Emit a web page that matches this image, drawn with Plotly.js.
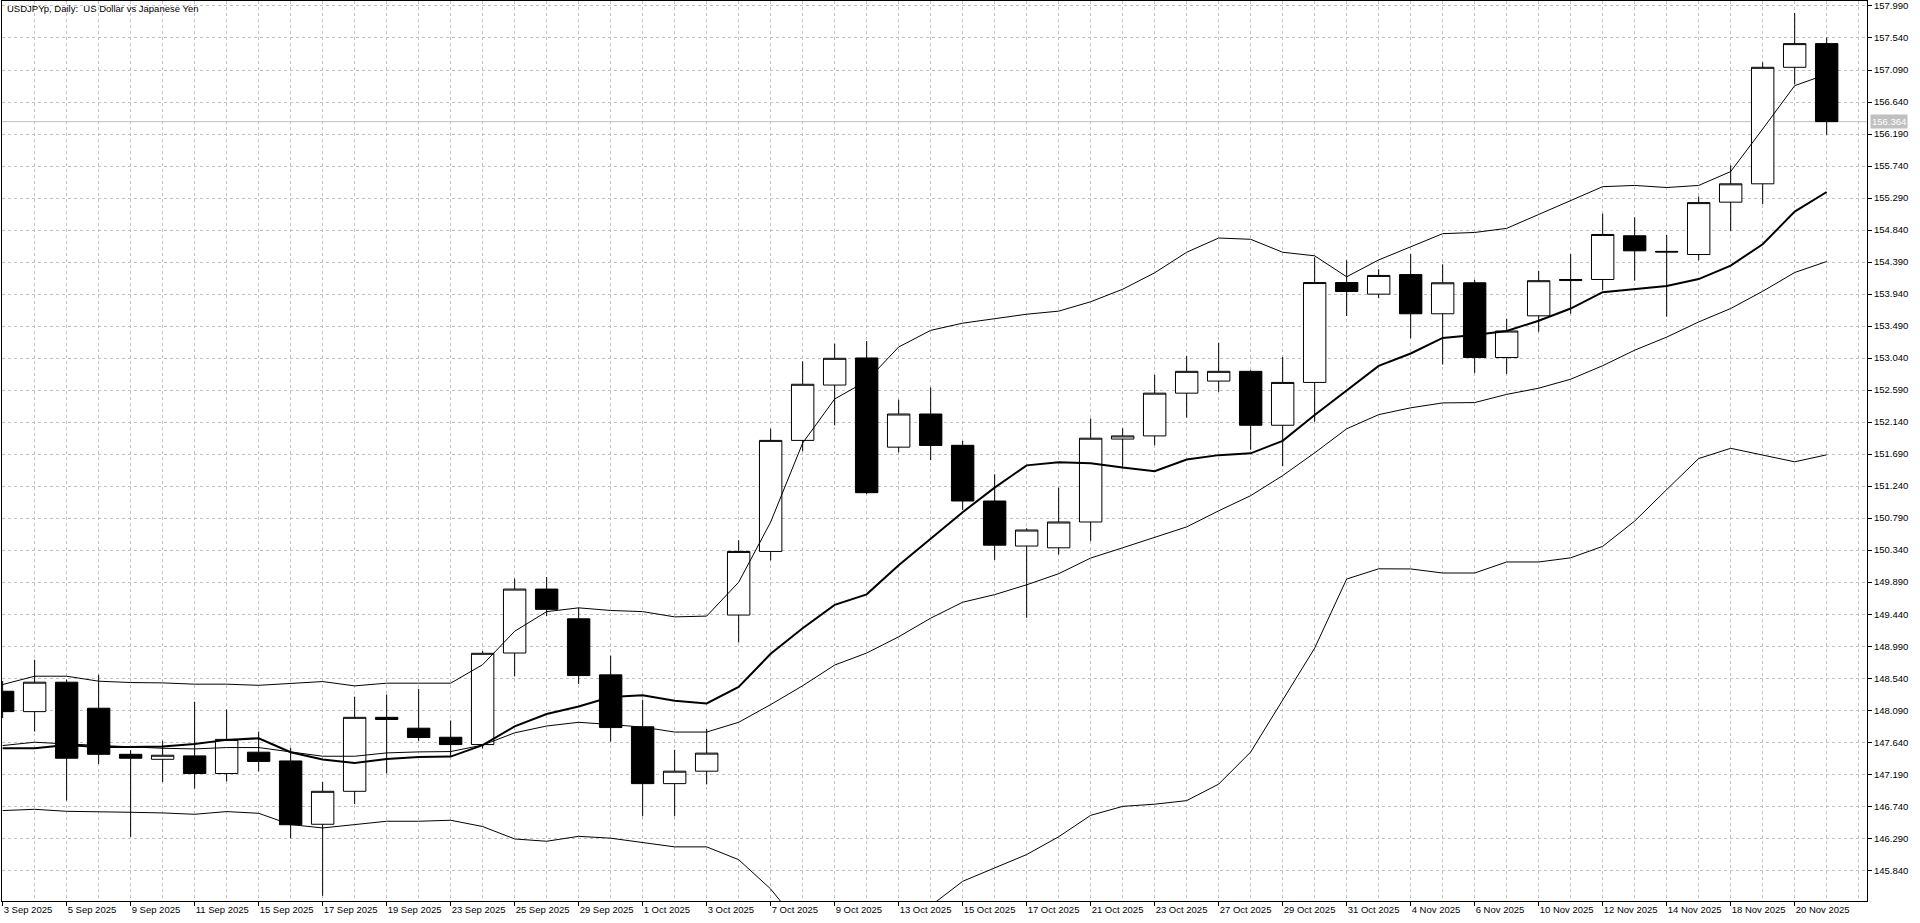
<!DOCTYPE html>
<html>
<head>
<meta charset="utf-8">
<script src="https://cdn.plot.ly/plotly-3.0.1.min.js"></script>
<style>
html,body{margin:0;padding:0;background:#fff;}
#chart{width:1920px;height:923px;}
#chart .plot path{shape-rendering:crispEdges;}
</style>
</head>
<body>
<div id="chart"></div>
<script>
// ---- data ----
var dates = ['3 Sep 2025','4 Sep 2025','5 Sep 2025','8 Sep 2025','9 Sep 2025','10 Sep 2025','11 Sep 2025','12 Sep 2025',
  '15 Sep 2025','16 Sep 2025','17 Sep 2025','18 Sep 2025','19 Sep 2025','22 Sep 2025','23 Sep 2025','24 Sep 2025',
  '25 Sep 2025','26 Sep 2025','29 Sep 2025','30 Sep 2025','1 Oct 2025','2 Oct 2025','3 Oct 2025','6 Oct 2025',
  '7 Oct 2025','8 Oct 2025','9 Oct 2025','10 Oct 2025','13 Oct 2025','14 Oct 2025','15 Oct 2025','16 Oct 2025',
  '17 Oct 2025','20 Oct 2025','21 Oct 2025','22 Oct 2025','23 Oct 2025','24 Oct 2025','27 Oct 2025','28 Oct 2025',
  '29 Oct 2025','30 Oct 2025','31 Oct 2025','3 Nov 2025','4 Nov 2025','5 Nov 2025','6 Nov 2025','7 Nov 2025',
  '10 Nov 2025','11 Nov 2025','12 Nov 2025','13 Nov 2025','14 Nov 2025','17 Nov 2025','18 Nov 2025','19 Nov 2025',
  '20 Nov 2025','21 Nov 2025'];

var openP = [148.357,148.070,148.484,148.118,147.470,147.400,147.448,147.200,147.500,147.377,146.487,146.950,147.990,147.837,147.710,147.607,
  148.894,149.793,149.375,148.587,147.857,147.058,147.233,149.428,150.322,151.883,152.661,153.042,151.788,152.254,151.814,151.031,
  150.398,150.373,150.736,151.902,151.946,152.547,152.717,152.854,152.096,152.698,154.102,153.939,154.214,153.663,154.099,153.048,
  153.634,154.130,154.145,154.760,154.540,154.496,155.232,155.490,157.128,157.461];
var highP = [148.500,148.800,148.520,148.587,147.530,147.660,148.210,148.100,147.790,147.560,147.080,148.280,148.310,148.390,147.945,148.920,
  149.940,149.963,149.529,148.857,148.233,147.534,147.825,150.481,152.047,152.994,153.243,153.280,152.455,152.627,151.877,151.407,
  150.648,151.219,152.190,152.052,152.804,153.067,153.256,152.870,153.055,154.459,154.415,154.290,154.502,154.358,154.140,153.593,
  154.266,154.502,155.071,155.019,154.772,155.312,155.749,157.197,157.893,157.547];
var lowP = [147.980,147.790,146.820,147.335,146.310,147.080,146.990,147.090,147.230,146.290,145.480,146.770,147.200,147.660,147.443,147.550,
  148.566,149.413,148.460,147.650,146.598,146.598,147.047,149.042,150.196,151.730,152.095,151.130,151.714,151.605,150.905,150.203,
  149.389,150.279,150.467,151.488,151.814,152.203,152.566,151.751,151.520,152.146,153.632,153.882,153.318,152.950,152.829,152.818,
  153.410,153.663,153.996,154.128,153.622,154.415,154.829,155.203,156.887,156.180];
var closeP = [148.070,148.484,147.415,147.470,147.415,147.457,147.200,147.680,147.370,146.480,146.950,147.990,147.960,147.706,147.607,148.890,
  149.793,149.508,148.577,147.846,147.058,147.233,147.487,150.322,151.883,152.672,153.037,151.148,152.254,151.812,151.031,150.410,
  150.623,150.736,151.914,151.946,152.547,152.854,152.854,152.096,152.698,154.102,153.976,154.202,153.663,154.099,153.048,153.421,
  154.128,154.145,154.778,154.548,154.532,155.226,155.490,157.128,157.461,156.364];

// thick moving average
var maLine = [147.555,147.555,147.602,147.574,147.574,147.579,147.616,147.673,147.696,147.499,147.396,147.349,147.405,147.434,147.438,147.600,
  147.862,148.037,148.143,148.275,148.301,148.222,148.185,148.418,148.883,149.243,149.571,149.719,150.127,150.500,150.874,151.219,
  151.532,151.576,151.563,151.501,151.451,151.614,151.676,151.701,151.877,152.240,152.579,152.930,153.105,153.323,153.364,153.421,
  153.565,153.737,153.967,154.007,154.053,154.151,154.341,154.640,155.100,155.375];
// Bollinger bands (thin lines)
var bbUpper = [148.451,148.568,148.568,148.498,148.479,148.474,148.456,148.456,148.440,148.465,148.493,148.432,148.470,148.470,148.470,148.730,
  149.200,149.476,149.529,149.492,149.476,149.402,149.413,149.889,150.735,151.846,152.465,152.720,153.196,153.430,153.531,153.594,
  153.657,153.700,153.832,154.008,154.239,154.528,154.728,154.710,154.528,154.478,154.183,154.420,154.599,154.789,154.806,154.864,
  155.059,155.249,155.450,155.467,155.438,155.467,155.662,156.260,156.870,157.030];
var bbMiddle = [147.593,147.640,147.616,147.593,147.574,147.555,147.546,147.565,147.565,147.499,147.443,147.443,147.490,147.504,147.509,147.600,
  147.772,147.868,147.920,147.889,147.852,147.783,147.783,147.920,148.169,148.434,148.725,148.894,149.122,149.384,149.608,149.715,
  149.853,150.009,150.229,150.373,150.517,150.667,150.893,151.106,151.388,151.708,152.046,152.245,152.341,152.410,152.415,152.530,
  152.617,152.743,152.933,153.151,153.335,153.548,153.737,153.979,154.243,154.398];
var bbLower = [146.679,146.697,146.669,146.665,146.655,146.646,146.627,146.665,146.641,146.482,146.435,146.482,146.529,146.529,146.543,146.455,
  146.280,146.248,146.317,146.291,146.227,146.169,146.169,145.989,145.577,145.020,144.990,145.070,145.050,145.340,145.685,145.873,
  146.061,146.311,146.612,146.738,146.769,146.819,147.051,147.502,148.242,148.963,149.934,150.078,150.076,150.019,150.019,150.174,
  150.174,150.232,150.393,150.749,151.191,151.628,151.772,151.680,151.582,151.680];

var yTicks = [145.84,146.29,146.74,147.19,147.64,148.09,148.54,148.99,149.44,149.89,150.34,150.79,151.24,151.69,152.14,
  152.59,153.04,153.49,153.94,154.39,154.84,155.29,155.74,156.19,156.64,157.09,157.54,157.99];
var chartTitle = 'USDJPYp, Daily:  US Dollar vs Japanese Yen';

// ---- build ----
var xs = dates.map(function(d,i){return i;});
var tickIdx = xs.filter(function(i){return i % 2 === 0;});
var tickTxt = tickIdx.map(function(i){return dates[i];});
var lastClose = closeP[closeP.length-1];

var FONT = 'Liberation Sans, Arial, sans-serif';
var GRID = '#c0c0c0';

var traces = [
  {type:'candlestick', x:xs, open:openP, high:highP, low:lowP, close:closeP,
   increasing:{line:{color:'#000',width:1}, fillcolor:'#ffffff'},
   decreasing:{line:{color:'#000',width:1}, fillcolor:'#000000'},
   whiskerwidth:0, hoverinfo:'skip', showlegend:false},
  {type:'scatter', mode:'lines', x:xs, y:bbUpper, line:{color:'#000',width:1}, hoverinfo:'skip', showlegend:false},
  {type:'scatter', mode:'lines', x:xs, y:bbMiddle, line:{color:'#000',width:1}, hoverinfo:'skip', showlegend:false},
  {type:'scatter', mode:'lines', x:xs, y:bbLower, line:{color:'#000',width:1}, hoverinfo:'skip', showlegend:false},
  {type:'scatter', mode:'lines', x:xs, y:maLine, line:{color:'#000',width:2}, hoverinfo:'skip', showlegend:false}
];

var layout = {
  width:1920, height:923,
  margin:{l:2, r:53, t:1, b:22, pad:0},
  paper_bgcolor:'#ffffff', plot_bgcolor:'#ffffff',
  font:{family:FONT, size:9.5, color:'#000'},
  showlegend:false,
  boxgap:0.3, boxgroupgap:0,
  xaxis:{
    type:'linear', range:[-0.02, 58.26], fixedrange:true,
    tickmode:'array', tickvals:tickIdx, ticktext:tickTxt,
    ticks:'outside', ticklen:4, tickwidth:1, tickcolor:'#000',
    ticklabelposition:'outside right',
    tickfont:{family:FONT, size:9.5, color:'#000'},
    showgrid:true, gridcolor:GRID, griddash:'3px,3px', gridwidth:1,
    minor:{tickmode:'linear', tick0:0, dtick:1, showgrid:true, gridcolor:GRID, griddash:'3px,3px', gridwidth:1, ticks:''},
    showline:true, linecolor:'#000', linewidth:1, mirror:true,
    zeroline:false, rangeslider:{visible:false}
  },
  yaxis:{
    side:'right', range:[145.408, 158.06], fixedrange:true,
    tickmode:'array', tickvals:yTicks, tickformat:'.3f',
    ticks:'outside', ticklen:4, tickwidth:1, tickcolor:'#000',
    tickfont:{family:FONT, size:9.5, color:'#000'},
    showgrid:true, gridcolor:GRID, griddash:'3px,3px', gridwidth:1,
    showline:true, linecolor:'#000', linewidth:1, mirror:true,
    zeroline:false
  },
  shapes:[
    {type:'line', xref:'paper', x0:0, x1:1, yref:'y', y0:lastClose, y1:lastClose,
     line:{color:GRID, width:1}, layer:'below'}
  ],
  annotations:[
    {xref:'paper', yref:'paper', x:0, y:1, xanchor:'left', yanchor:'top', xshift:3, yshift:0,
     text:chartTitle, showarrow:false, font:{family:FONT, size:9.5, color:'#000'}},
    {xref:'paper', yref:'y', x:1, y:lastClose, xanchor:'left', yanchor:'middle', xshift:3,
     text:lastClose.toFixed(3), showarrow:false, bgcolor:GRID, borderpad:1,
     font:{family:FONT, size:9.5, color:'#ffffff'}}
  ]
};

Plotly.newPlot('chart', traces, layout, {staticPlot:true, displayModeBar:false});
</script>
</body>
</html>
